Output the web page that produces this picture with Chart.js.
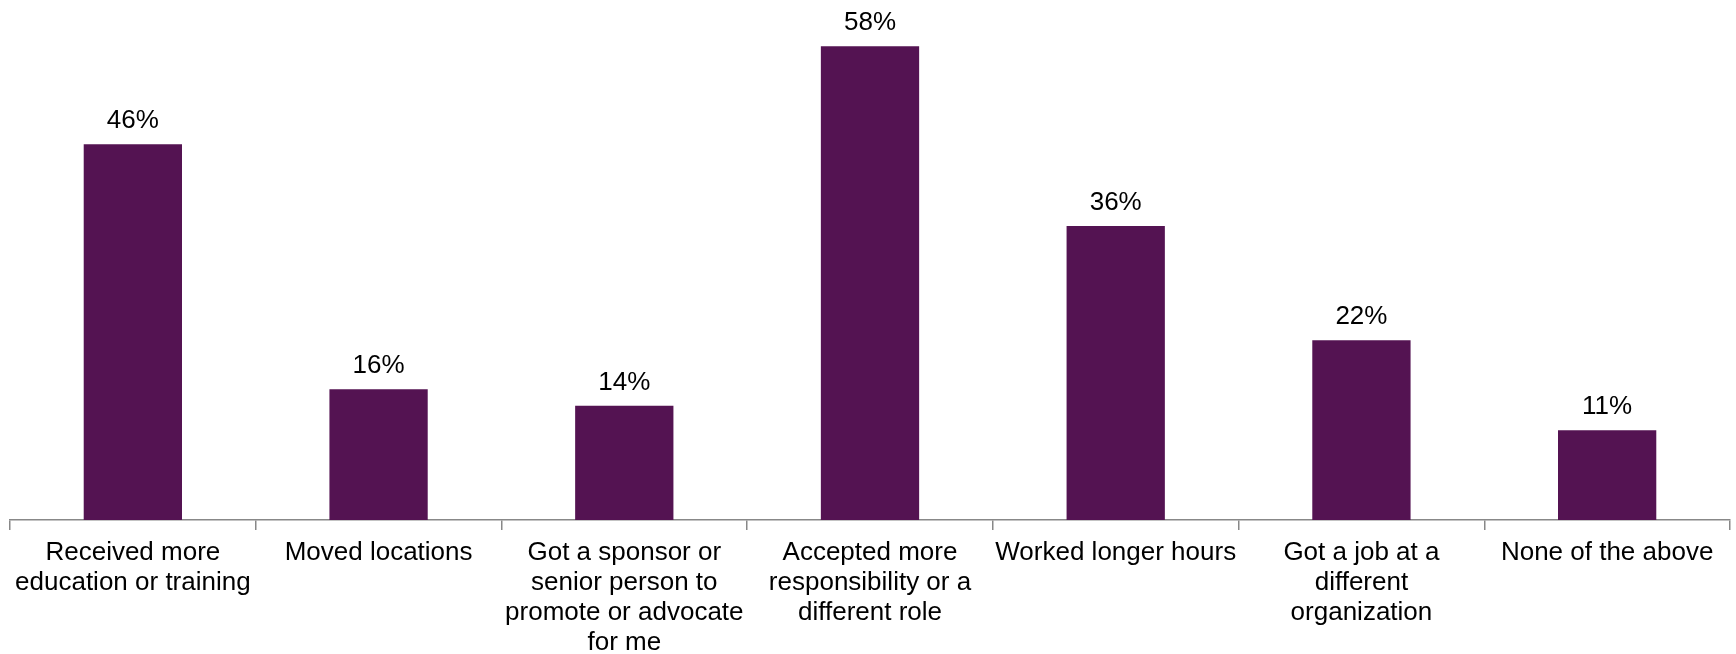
<!DOCTYPE html>
<html>
<head>
<meta charset="utf-8">
<script src="https://cdn.jsdelivr.net/npm/chart.js@4/dist/chart.umd.min.js"></script>
<style>
  html, body { margin: 0; padding: 0; background: #fff; }
</style>
</head>
<body>
<canvas id="barChart" width="1736" height="654"></canvas>
<script>
var categories = [
  ['Received more', 'education or training'],
  'Moved locations',
  ['Got a sponsor or', 'senior person to', 'promote or advocate', 'for me'],
  ['Accepted more', 'responsibility or a', 'different role'],
  'Worked longer hours',
  ['Got a job at a', 'different', 'organization'],
  'None of the above'
];
var percentages = [46, 16, 14, 58, 36, 22, 11];

var barColor = '#541352';
var fontFamily = 'Arial, "Liberation Sans", sans-serif';

// writes the value above each bar
var valueLabels = {
  id: 'valueLabels',
  afterDatasetsDraw: function(chart) {
    var ctx = chart.ctx;
    var meta = chart.getDatasetMeta(0);
    ctx.save();
    ctx.fillStyle = '#000';
    ctx.font = '26px ' + fontFamily;
    ctx.textAlign = 'center';
    ctx.textBaseline = 'alphabetic';
    meta.data.forEach(function(bar, i) {
      ctx.fillText(percentages[i] + '%', bar.x, bar.y - 16);
    });
    ctx.restore();
  }
};

function printBar(outputId, labels, data) {
  var ctx = document.getElementById(outputId);
  var myChart = new Chart(ctx, {
    type: 'bar',
    data: {
      labels: labels,
      datasets: [{
        data: data,
        backgroundColor: barColor,
        borderWidth: 0,
        barPercentage: 0.4,
        categoryPercentage: 1
      }]
    },
    options: {
      responsive: false,
      animation: false,
      layout: { padding: { top: 30, left: 10, right: 6, bottom: 0 } },
      plugins: {
        legend: { display: false },
        tooltip: { enabled: false }
      },
      scales: {
        x: {
          // keep the axis line low, the last label line runs to the bottom edge
          afterFit: function(scale) {
            scale.height = 134;
          },
          border: { color: '#888', width: 1.5 },
          grid: {
            offset: true,
            drawOnChartArea: false,
            drawTicks: true,
            tickLength: 10,
            color: '#888',
            lineWidth: 1.5
          },
          ticks: {
            color: '#000',
            padding: 8,
            maxRotation: 0,
            autoSkip: false,
            font: { family: fontFamily, size: 26, lineHeight: 1.154 }
          }
        },
        y: {
          display: false,
          min: 0,
          max: 60
        }
      }
    },
    plugins: [valueLabels]
  });
}

function init() {
  printBar('barChart', categories, percentages);
}

init();
</script>
</body>
</html>
